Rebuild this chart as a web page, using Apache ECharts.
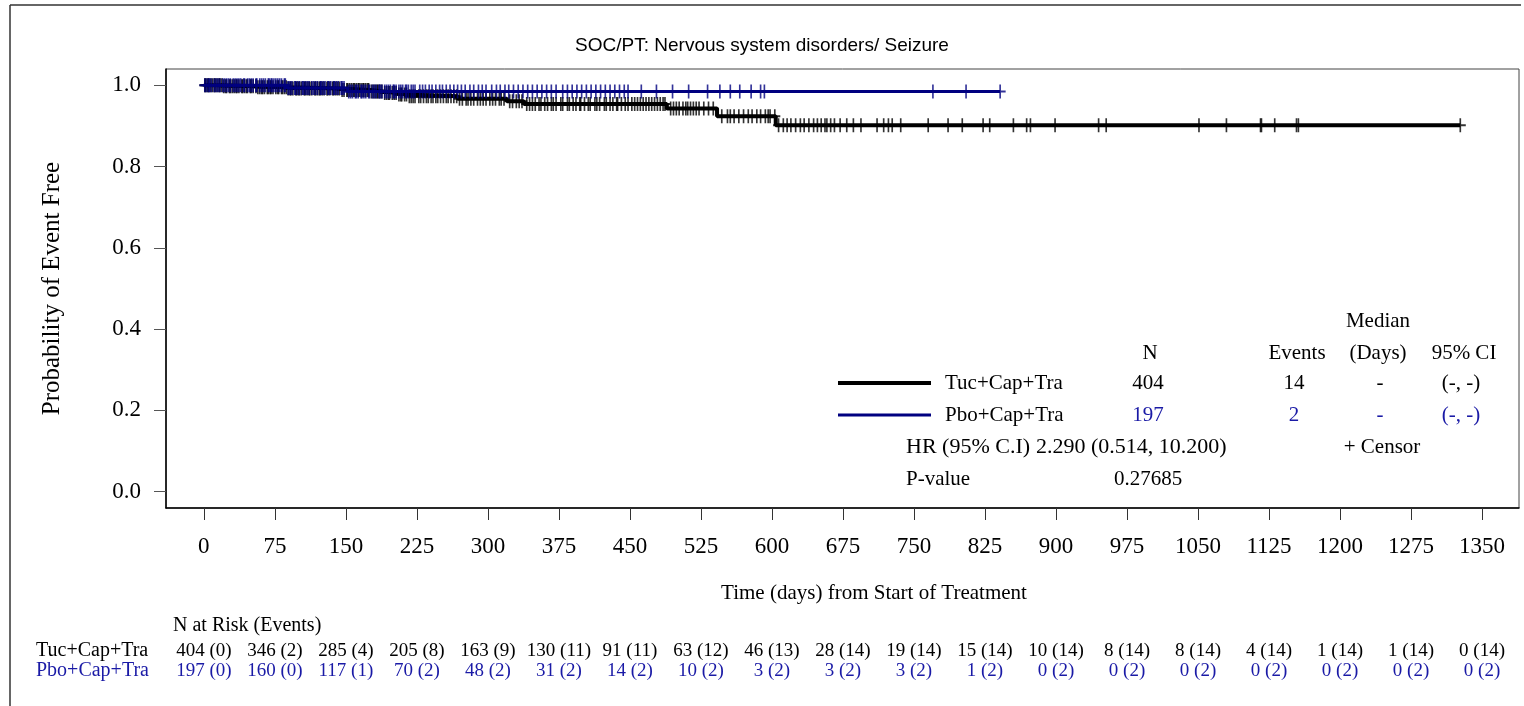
<!DOCTYPE html>
<html>
<head>
<meta charset="utf-8">
<script src="https://cdn.jsdelivr.net/npm/echarts@6/dist/echarts.min.js"></script>
<style>
html,body{margin:0;padding:0;background:#fff;}
#chart{width:1524px;height:706px;}
</style>
</head>
<body>
<div id="chart"></div>
<script>
// ---------------- DATA ----------------
const titleText = 'SOC/PT: Nervous system disorders/ Seizure';
const xTicks = [0,75,150,225,300,375,450,525,600,675,750,825,900,975,1050,1125,1200,1275,1350];
const yTicks = [0,0.2,0.4,0.6,0.8,1.0];
const groupNames = ['Tuc+Cap+Tra','Pbo+Cap+Tra'];

// Kaplan-Meier step points (time, survival)
const tucTimes = [0,20,56,88,144,176,190,204,215,268,320,338,489,542,604,1327];
const tucSurv  = [1,0.9975,0.9950,0.9920,0.9886,0.9848,0.9810,0.9770,0.9727,0.9671,0.9607,0.9538,0.9426,0.9237,0.9017,0.9017];
const pboTimes = [0,88,152,841];
const pboSurv  = [1,0.9933,0.9848,0.9848];

// censored times
const tucCensor = [1,2,4,5,7,9,11,12,14,16,17,19,21,23,24,27,28,30,32,34,35,37,40,41,43,45,46,49,50,52,55,57,59,61,62,64,67,68,70,71,73,
  76,78,79,82,83,85,87,89,91,92,94,97,98,100,101,103,106,107,109,111,112,114,117,118,120,122,123,125,127,130,131,133,136,137,139,141,143,146,148,
  151,152,154,156,158,159,161,163,164,166,168,169,171,173,174,177,179,181,183,184,186,188,191,193,195,196,199,201,203,206,208,209,212,214,217,219,221,223,
  227,229,232,235,237,240,242,245,247,250,253,256,258,261,264,267,270,273,277,279,282,285,289,292,295,298,
  302,305,308,312,314,317,323,326,330,333,336,341,344,347,350,354,356,360,363,367,369,372,
  377,379,384,386,390,393,397,398,402,406,408,413,415,418,423,425,429,432,436,437,441,445,448,
  452,455,458,461,464,467,470,473,476,479,482,485,487,493,496,499,502,506,509,511,514,517,520,523,
  528,533,538,547,553,556,560,565,570,575,579,584,588,593,596,598,
  603,607,612,616,620,625,630,634,639,644,648,652,656,658,662,666,672,
  679,686,694,711,718,723,727,736,765,786,801,823,830,855,869,873,899,945,953,1051,1080,1116,1117,1131,1154,1156,1327];
const pboCensor = [1,3,5,6,8,11,13,15,17,20,22,24,26,28,31,33,35,37,39,42,43,46,48,50,52,55,56,59,61,63,65,68,69,71,72,74,
  76,78,80,82,85,86,89,91,93,96,97,99,101,104,105,107,109,111,114,116,118,120,123,124,126,128,131,132,134,137,138,140,142,145,146,148,
  153,155,157,160,161,163,166,167,169,171,174,175,178,180,182,185,186,188,191,193,195,197,200,201,203,206,208,210,213,214,216,219,221,223,
  228,231,234,238,241,245,249,252,256,260,264,268,272,276,281,285,290,294,298,
  304,309,313,318,322,327,332,337,342,347,352,357,362,367,372,
  379,384,389,394,399,404,409,414,419,424,429,434,439,444,448,
  462,478,495,512,
  532,545,556,566,578,588,592,
  770,805,841];

// summary table
const summaryHeader = ['N','Events','(Days)','95% CI'];
const summaryTuc = ['404','14','-','(-, -)'];
const summaryPbo = ['197','2','-','(-, -)'];
const hrLabel = 'HR (95% C.I)';
const hrValue = '2.290 (0.514, 10.200)';
const pLabel = 'P-value';
const pValue = '0.27685';

// number at risk (events)
const atRiskTuc = ['404 (0)','346 (2)','285 (4)','205 (8)','163 (9)','130 (11)','91 (11)','63 (12)','46 (13)','28 (14)','19 (14)','15 (14)','10 (14)','8 (14)','8 (14)','4 (14)','1 (14)','1 (14)','0 (14)'];
const atRiskPbo = ['197 (0)','160 (0)','117 (1)','70 (2)','48 (2)','31 (2)','14 (2)','10 (2)','3 (2)','3 (2)','3 (2)','1 (2)','0 (2)','0 (2)','0 (2)','0 (2)','0 (2)','0 (2)','0 (2)'];

// ---------------- CHART ----------------
const BLACK = '#000000';
const BLUE = '#000080';
const BLUE_TXT = '#1a1aa6';
const SERIF = '"Liberation Serif","Times New Roman",serif';
const SANS = '"Liberation Sans",Arial,sans-serif';

function survAt(times, surv, t){
  let s = surv[0];
  for (let i=0;i<times.length;i++){ if (times[i] <= t) s = surv[i]; }
  return s;
}
const tucLine = tucTimes.map((t,i)=>[t,tucSurv[i]]);
const pboLine = pboTimes.map((t,i)=>[t,pboSurv[i]]);
const tucCens = tucCensor.map(t=>[t, survAt(tucTimes,tucSurv,t)]);
const pboCens = pboCensor.map(t=>[t, survAt(pboTimes,pboSurv,t)]);

const plusPath = 'path://M4.25,0H5.75V4.25H10V5.75H5.75V10H4.25V5.75H0V4.25H4.25Z';

const chart = echarts.init(document.getElementById('chart'), null, {renderer:'canvas'});
chart.setOption({
  backgroundColor:'#ffffff',
  animation:false,
  title:{text:titleText,left:'center',top:31,textStyle:{fontFamily:SANS,fontSize:19,fontWeight:'normal',color:'#000'}},
  grid:{left:166,top:69,right:5,bottom:198,show:true,borderColor:'#444',borderWidth:1,containLabel:false},
  xAxis:{type:'value',min:-40,max:1389,
    axisLine:{show:true,onZero:false,lineStyle:{color:'#000',width:1.5}},
    axisTick:{show:true,customValues:xTicks,length:12,lineStyle:{color:'#333',width:1}},
    axisLabel:{show:true,customValues:xTicks,margin:27,fontFamily:SERIF,fontSize:23,color:'#000',formatter:v=>String(v)},
    splitLine:{show:false}},
  yAxis:{type:'value',min:-0.04,max:1.04,
    name:'Probability of Event Free',nameLocation:'middle',nameGap:101,nameRotate:90,
    nameTextStyle:{fontFamily:SERIF,fontSize:25,color:'#000'},
    axisLine:{show:true,onZero:false,lineStyle:{color:'#000',width:1.5}},
    axisTick:{show:true,customValues:yTicks,length:12,lineStyle:{color:'#555',width:1}},
    axisLabel:{show:true,customValues:yTicks,margin:25,fontFamily:SERIF,fontSize:23,color:'#000',formatter:v=>v.toFixed(1)},
    splitLine:{show:false}},
  series:[
    {name:groupNames[0],type:'line',step:'end',data:tucLine,showSymbol:false,symbol:'none',lineStyle:{color:BLACK,width:4},z:2},
    {name:groupNames[0]+' censor',type:'scatter',data:tucCens,symbol:plusPath,symbolSize:[11,14],itemStyle:{color:BLACK},z:3},
    {name:groupNames[1],type:'line',step:'end',data:pboLine,showSymbol:false,symbol:'none',lineStyle:{color:BLUE,width:3},z:4},
    {name:groupNames[1]+' censor',type:'scatter',data:pboCens,symbol:plusPath,symbolSize:[11,14],itemStyle:{color:BLUE},z:5}
  ]
});

// ---------------- ANNOTATIONS ----------------
const px = t => chart.convertToPixel({xAxisIndex:0}, t);
const g = [];
function txt(x,y,s,opt){
  opt = opt||{};
  g.push({type:'text',x:x,y:y,silent:true,style:{text:s,fontFamily:opt.font||SERIF,fontSize:opt.size||21,fill:opt.color||'#000',align:opt.align||'center',verticalAlign:'middle'}});
}
// outer frame
g.push({type:'line',shape:{x1:10,y1:5,x2:1521,y2:5},style:{stroke:'#333',lineWidth:1.5}});
g.push({type:'line',shape:{x1:10,y1:5,x2:10,y2:706},style:{stroke:'#333',lineWidth:1.5}});

// summary table inside plot
const colX = [1150,1297,1378,1464];
const valX = [1148,1294,1380,1461];
txt(1378,321,'Median');
summaryHeader.forEach((s,i)=>txt(colX[i],353,s));
g.push({type:'line',shape:{x1:838,y1:383,x2:931,y2:383},style:{stroke:BLACK,lineWidth:4}});
g.push({type:'line',shape:{x1:838,y1:415,x2:931,y2:415},style:{stroke:BLUE,lineWidth:3}});
txt(945,383,groupNames[0],{align:'left'});
txt(945,415,groupNames[1],{align:'left'});
summaryTuc.forEach((s,i)=>txt(valX[i],383,s));
summaryPbo.forEach((s,i)=>txt(valX[i],415,s,{color:BLUE_TXT}));
txt(906,447,hrLabel,{align:'left',size:22});
txt(1036,447,hrValue,{align:'left',size:22});
txt(1382,447,'+ Censor');
txt(906,479,pLabel,{align:'left'});
txt(1148,479,pValue);

// x-axis title
txt(874,593,'Time (days) from Start of Treatment',{size:21});

// at-risk table
txt(173,626,'N at Risk (Events)',{align:'left',size:20});
txt(36,651,groupNames[0],{align:'left',size:20});
txt(36,671,groupNames[1],{align:'left',size:20,color:BLUE_TXT});
xTicks.forEach((t,i)=>{
  const x = px(t);
  txt(x,651,atRiskTuc[i],{size:19});
  txt(x,671,atRiskPbo[i],{size:19,color:BLUE_TXT});
});
chart.setOption({graphic:{elements:g}});
</script>
</body>
</html>
